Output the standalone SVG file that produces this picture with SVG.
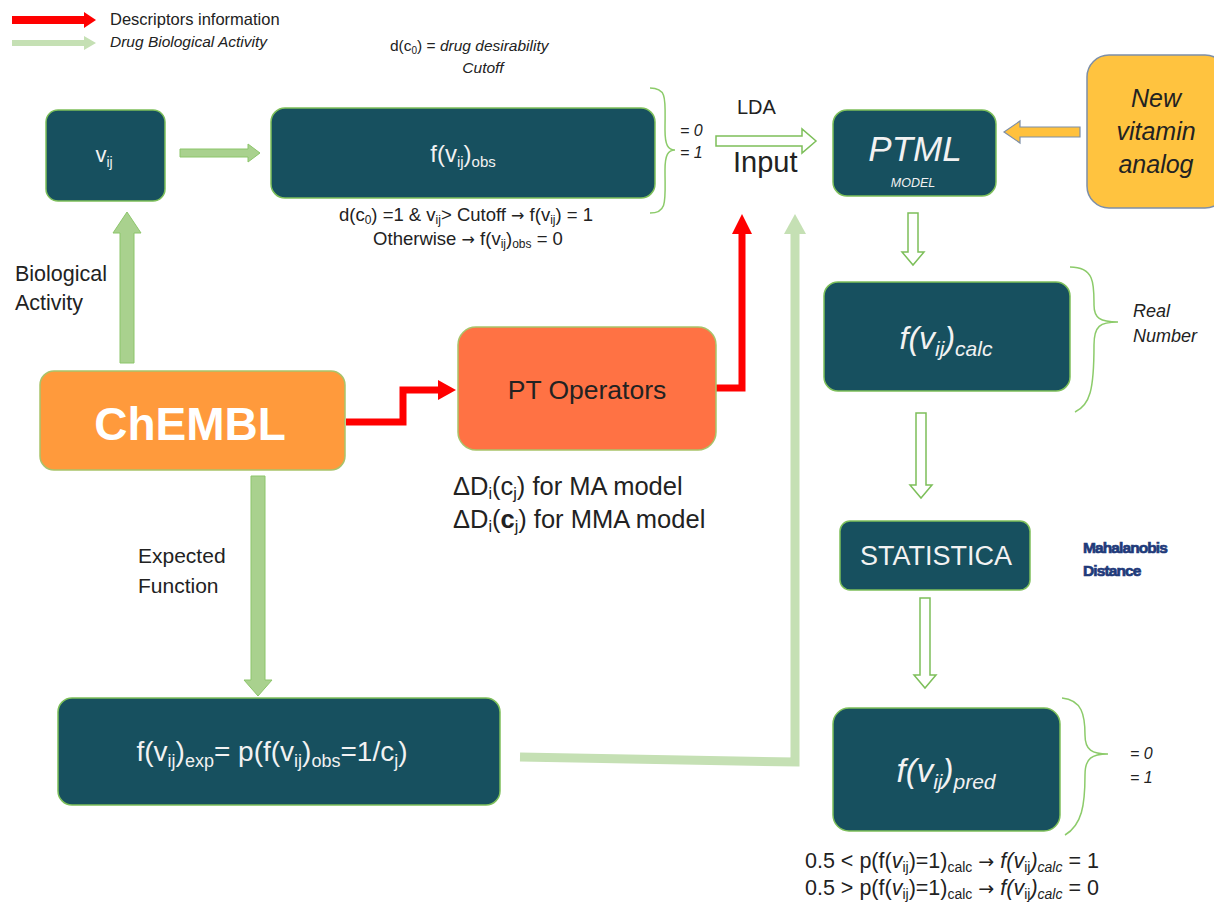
<svg xmlns="http://www.w3.org/2000/svg" width="1214" height="902" viewBox="0 0 1214 902">
<style>
text{font-family:"Liberation Sans","Open Sans",sans-serif;}
.ar{font-family:"DejaVu Sans",sans-serif;}
.box{fill:#17505F;stroke:#7DBF5A;stroke-width:1.5;}
.wt{fill:#F2F2F2;}
.bk{fill:#222;}
.it{font-style:italic;}
.hollow{fill:#fff;stroke:#7DBF5A;stroke-width:1.5;}
.brace{fill:none;stroke:#8CCB6A;stroke-width:1.5;}
.red{fill:none;stroke:#FF0000;stroke-width:7;}
.llg{fill:none;stroke:#C5E0B4;stroke-width:9;}
.mah{font-size:15.5px;font-weight:bold;fill:#1F3A7A;stroke:#1F3A7A;stroke-width:0.7;letter-spacing:-0.9px;}
</style>

<g id="legend">
  <polygon points="12,16 84,16 84,12 96,20 84,28 84,24 12,24" fill="#FF0000"/>
  <text x="110" y="25" font-size="16.5" class="bk">Descriptors information</text>
  <polygon points="12,40 84,40 84,36 96,43 84,50 84,46 12,46" fill="#C5E0B4"/>
  <text x="110" y="47" font-size="15.5" class="bk it">Drug Biological Activity</text>
</g>

<g id="connectors">
  <polygon points="180,149 248,149 248,144 260,153 248,162 248,157 180,157" fill="#A9D18E" stroke="#8CC56B" stroke-width="1"/>
  <polygon points="120,363 120,233 113,233 127,212 141,233 134,233 134,363" fill="#A9D18E" stroke="#8CC56B" stroke-width="1"/>
  <polygon points="251,476 251,680 244,680 258,696 272,680 265,680 265,476" fill="#A9D18E" stroke="#8CC56B" stroke-width="1"/>
  <polyline class="red" points="346,422 403,422 403,390 440,390"/>
  <polygon points="438,380 456,390 438,400" fill="#FF0000"/>
  <polyline class="red" points="716,388 742,388 742,232"/>
  <polygon points="732,234 742,214 752,234" fill="#FF0000"/>
  <polyline class="llg" points="520,757 795,762 795,232"/>
  <polygon points="784,234 795,214 806,234" fill="#C5E0B4"/>
  <polygon class="hollow" points="716,136 802,136 802,129 816,141 802,153 802,146 716,146"/>
  <polygon points="1080,127 1020,127 1020,121 1004,132 1020,143 1020,137 1080,137" fill="#FFC13D" stroke="#7D8FA8" stroke-width="1.2"/>
  <polygon class="hollow" points="908,213 918,213 918,252 924,252 913,265 902,252 908,252"/>
  <polygon class="hollow" points="916,413 926,413 926,485 932,485 921,498 910,485 916,485"/>
  <polygon class="hollow" points="920,598 930,598 930,675 936,675 925,688 914,675 920,675"/>
</g>

<g id="cutoff-note">
  <text x="390" y="51" font-size="15.5" class="bk">d(c<tspan font-size="10" dy="3">0</tspan><tspan dy="-3">) = </tspan><tspan class="it">drug desirability</tspan></text>
  <text x="483" y="73" font-size="15.5" class="bk it" text-anchor="middle">Cutoff</text>
</g>

<g id="node-vij">
  <rect class="box" x="46" y="110" width="119" height="91" rx="12"/>
  <text x="104" y="162" font-size="22" class="wt" text-anchor="middle">v<tspan font-size="14" dy="5">ij</tspan></text>
</g>

<g id="node-fobs">
  <rect class="box" x="271" y="108" width="384" height="90" rx="14"/>
  <text x="463" y="162" font-size="24" class="wt" text-anchor="middle">f(v<tspan font-size="15" dy="5">ij</tspan><tspan dy="-5">)</tspan><tspan font-size="15" dy="5">obs</tspan></text>
  <path class="brace" d="M650,88 C668,88 665,100 665,130 C665,145 668,150 675,150 C668,150 665,155 665,170 C665,200 668,213 650,213"/>
  <text x="680" y="136" font-size="16" class="bk it">= 0</text>
  <text x="680" y="158" font-size="16" class="bk it">= 1</text>
  <text x="466" y="221" font-size="18.5" class="bk" text-anchor="middle">d(c<tspan font-size="12" dy="3">0</tspan><tspan dy="-3">) =1 &amp; v</tspan><tspan font-size="12" dy="3">ij</tspan><tspan dy="-3">&gt; Cutoff  </tspan><tspan class="ar" font-size="16">→</tspan><tspan> f(v</tspan><tspan font-size="12" dy="3">ij</tspan><tspan dy="-3">) = 1</tspan></text>
  <text x="468" y="245" font-size="18.5" class="bk" text-anchor="middle">Otherwise <tspan class="ar" font-size="16">→</tspan><tspan> f(v</tspan><tspan font-size="12" dy="3">ij</tspan><tspan dy="-3">)</tspan><tspan font-size="12" dy="3">obs</tspan><tspan dy="-3"> = 0</tspan></text>
</g>

<g id="lda-input">
  <text x="737" y="114" font-size="20" class="bk">LDA</text>
  <text x="733" y="172" font-size="29" class="bk">Input</text>
</g>

<g id="node-ptml">
  <rect class="box" x="833" y="110" width="163" height="86" rx="14"/>
  <text x="915" y="161" font-size="35" class="wt it" text-anchor="middle">PTML</text>
  <text x="913" y="187" font-size="12.5" class="wt it" text-anchor="middle">MODEL</text>
</g>

<g id="node-vitamin">
  <rect x="1087" y="55" width="140" height="153" rx="22" fill="#FFC33F" stroke="#7D8FA8" stroke-width="1.5"/>
  <text x="1156" y="107" font-size="25" class="bk it" text-anchor="middle">New</text>
  <text x="1156" y="140" font-size="25" class="bk it" text-anchor="middle">vitamin</text>
  <text x="1156" y="173" font-size="25" class="bk it" text-anchor="middle">analog</text>
</g>

<g id="node-calc">
  <rect class="box" x="824" y="282" width="246" height="109" rx="14"/>
  <text x="946" y="349" font-size="32" class="wt it" text-anchor="middle">f(v<tspan font-size="21" dy="7">ij</tspan><tspan dy="-7">)</tspan><tspan font-size="21" dy="7">calc</tspan></text>
  <path class="brace" d="M1070,267 C1095,267 1094,285 1094,305 C1094,318 1100,322 1118,322 C1100,322 1094,326 1094,345 C1094,390 1090,405 1075,412"/>
  <text x="1133" y="317" font-size="18" class="bk it">Real</text>
  <text x="1133" y="342" font-size="18" class="bk it">Number</text>
</g>

<g id="node-chembl">
  <rect x="40" y="371" width="305" height="99" rx="14" fill="#FF9A3C" stroke="#A9C36A" stroke-width="1.5"/>
  <text x="190" y="440" font-size="46" font-weight="bold" fill="#FFFFFF" text-anchor="middle">ChEMBL</text>
  <text x="15" y="281" font-size="21.5" class="bk">Biological</text>
  <text x="15" y="310" font-size="21.5" class="bk">Activity</text>
</g>

<g id="node-pt">
  <rect x="458" y="327" width="258" height="123" rx="18" fill="#FF7244" stroke="#A9C36A" stroke-width="1.5"/>
  <text x="587" y="399" font-size="26.5" class="bk" text-anchor="middle">PT Operators</text>
  <text x="453" y="495" font-size="25.5" class="bk">ΔD<tspan font-size="16" dy="4">i</tspan><tspan dy="-4">(c</tspan><tspan font-size="16" dy="4">j</tspan><tspan dy="-4">)  for MA model</tspan></text>
  <text x="453" y="528" font-size="25.5" class="bk">ΔD<tspan font-size="16" dy="4">i</tspan><tspan dy="-4">(</tspan><tspan font-weight="bold">c</tspan><tspan font-size="16" dy="4">j</tspan><tspan dy="-4">)  for MMA model</tspan></text>
</g>

<g id="node-statistica">
  <rect class="box" x="840" y="521" width="190" height="69" rx="10"/>
  <text x="936" y="565" font-size="27" class="wt" text-anchor="middle">STATISTICA</text>
  <text x="1083" y="553" class="mah">Mahalanobis</text>
  <text x="1083" y="576" class="mah">Distance</text>
</g>

<g id="node-fexp">
  <rect class="box" x="58" y="698" width="442" height="107" rx="14"/>
  <text x="272" y="761" font-size="28" class="wt" text-anchor="middle">f(v<tspan font-size="18" dy="6">ij</tspan><tspan dy="-6">)</tspan><tspan font-size="18" dy="6">exp</tspan><tspan dy="-6">= p(f(v</tspan><tspan font-size="18" dy="6">ij</tspan><tspan dy="-6">)</tspan><tspan font-size="18" dy="6">obs</tspan><tspan dy="-6">=1/c</tspan><tspan font-size="18" dy="6">j</tspan><tspan dy="-6">)</tspan></text>
  <text x="138" y="563" font-size="21" class="bk">Expected</text>
  <text x="138" y="593" font-size="21" class="bk">Function</text>
</g>

<g id="node-pred">
  <rect class="box" x="833" y="708" width="227" height="123" rx="16"/>
  <text x="946" y="782" font-size="33" class="wt it" text-anchor="middle">f(v<tspan font-size="21" dy="7">ij</tspan><tspan dy="-7">)</tspan><tspan font-size="21" dy="7">pred</tspan></text>
  <path class="brace" d="M1062,698 C1082,700 1085,715 1085,735 C1085,750 1092,754 1108,754 C1092,754 1085,758 1085,775 C1085,805 1082,825 1065,835"/>
  <text x="1130" y="759" font-size="16" class="bk it">= 0</text>
  <text x="1130" y="783" font-size="16" class="bk it">= 1</text>
  <text x="805" y="868" font-size="21.5" class="bk">0.5 &lt; p(f(<tspan class="it">v</tspan><tspan font-size="14" dy="4">ij</tspan><tspan dy="-4">)=1)</tspan><tspan font-size="14" dy="4">calc</tspan><tspan dy="-4"> </tspan><tspan class="ar" font-size="19">→</tspan><tspan> </tspan><tspan class="it">f(v</tspan><tspan font-size="14" dy="4">ij</tspan><tspan class="it" dy="-4">)</tspan><tspan class="it" font-size="14" dy="4">calc</tspan><tspan dy="-4"> = 1</tspan></text>
  <text x="805" y="895" font-size="21.5" class="bk">0.5 &gt; p(f(<tspan class="it">v</tspan><tspan font-size="14" dy="4">ij</tspan><tspan dy="-4">)=1)</tspan><tspan font-size="14" dy="4">calc</tspan><tspan dy="-4"> </tspan><tspan class="ar" font-size="19">→</tspan><tspan> </tspan><tspan class="it">f(v</tspan><tspan font-size="14" dy="4">ij</tspan><tspan class="it" dy="-4">)</tspan><tspan class="it" font-size="14" dy="4">calc</tspan><tspan dy="-4"> = 0</tspan></text>
</g>
</svg>
